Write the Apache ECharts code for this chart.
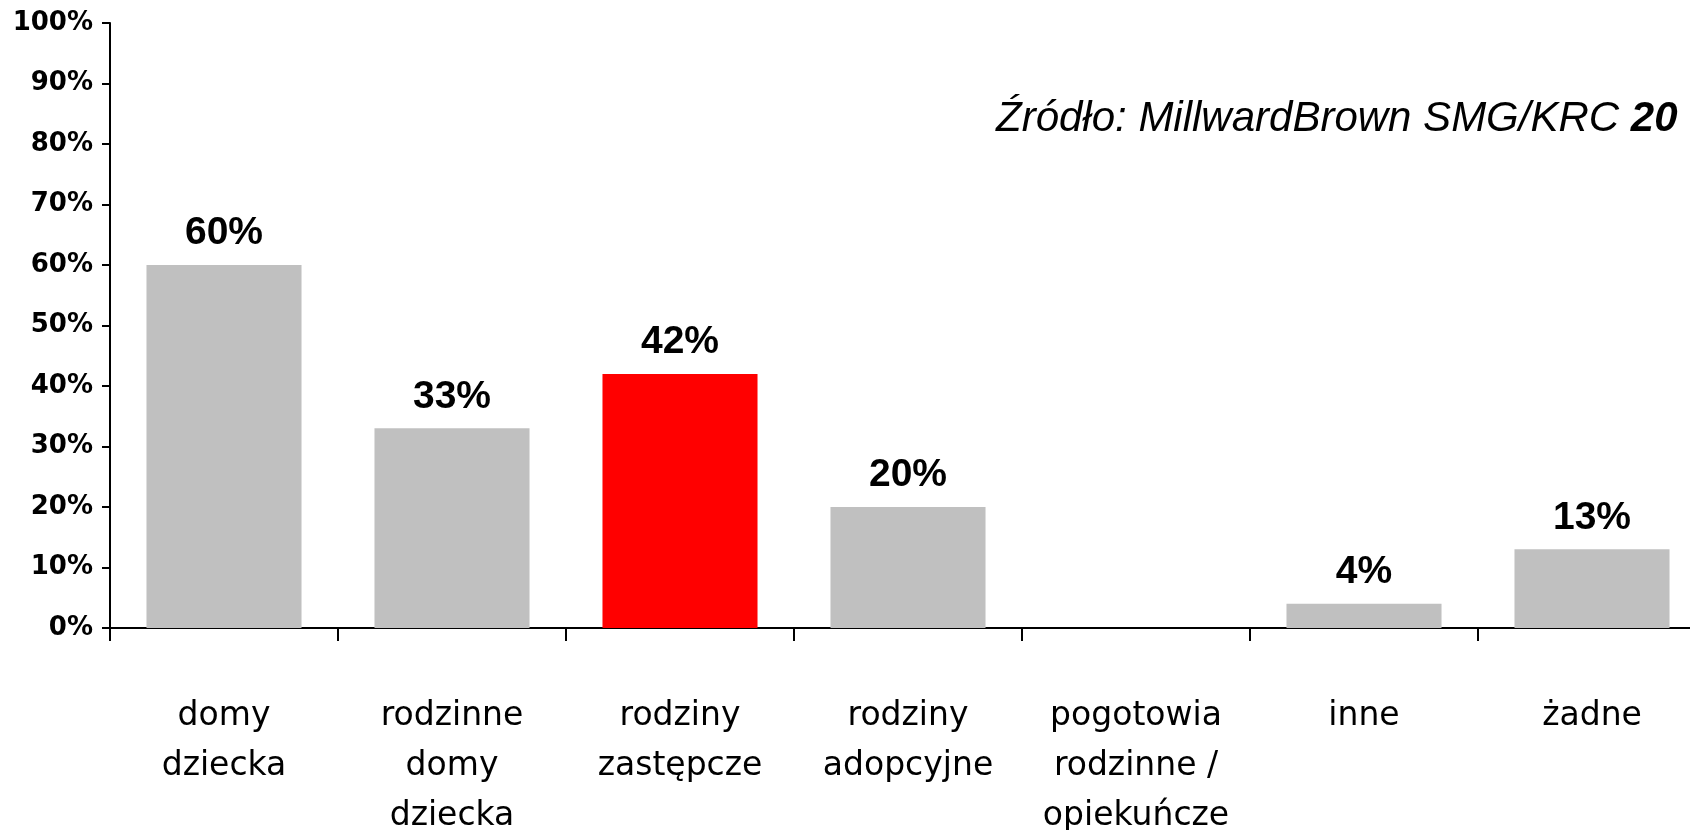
<!DOCTYPE html>
<html>
<head>
<meta charset="utf-8">
<script src="https://cdn.jsdelivr.net/npm/echarts@6/dist/echarts.min.js"></script>
<style>
html,body{margin:0;padding:0;background:#fff;overflow:hidden;width:1690px;height:830px;}
#chart{width:1706px;height:830px;}
</style>
</head>
<body>
<div id="chart"></div>
<script>
const categories = ['domy\ndziecka', 'rodzinne\ndomy\ndziecka', 'rodziny\nzastępcze', 'rodziny\nadopcyjne', 'pogotowia\nrodzinne /\nopiekuńcze', 'inne', 'żadne'];
const values = [60, 33, 42, 20, null, 4, 13];
const highlightIndex = 2;
const yTicks = [0, 10, 20, 30, 40, 50, 60, 70, 80, 90, 100];
const sourceText = 'Źródło: MillwardBrown SMG/KRC ';
const sourceYear = '20';

const chart = echarts.init(document.getElementById('chart'), null, {renderer: 'canvas'});
chart.setOption({
  animation: false,
  backgroundColor: '#ffffff',
  grid: {left: 110, top: 23, bottom: 202, right: 0, containLabel: false, outerBoundsMode: 'none'},
  xAxis: {
    type: 'category',
    data: categories,
    axisLine: {lineStyle: {color: '#000', width: 2}},
    axisTick: {show: true, length: 13, alignWithLabel: false, lineStyle: {color: '#000', width: 2}},
    axisLabel: {
      interval: 0,
      margin: 63,
      color: '#000',
      fontFamily: 'DejaVu Sans',
      fontSize: 33,
      lineHeight: 50
    }
  },
  yAxis: {
    type: 'value',
    min: yTicks[0],
    max: yTicks[yTicks.length - 1],
    interval: 10,
    splitLine: {show: false},
    axisLine: {show: true, lineStyle: {color: '#000', width: 2}},
    axisTick: {show: true, length: 8, lineStyle: {color: '#000', width: 2}},
    axisLabel: {
      margin: 17,
      color: '#000',
      fontFamily: 'DejaVu Sans',
      fontWeight: 'bold',
      fontSize: 26,
      formatter: v => v + '%'
    }
  },
  series: [{
    type: 'bar',
    barWidth: '68%',
    data: values.map((v, i) => ({
      value: v,
      itemStyle: {color: i === highlightIndex ? '#ff0000' : '#c0c0c0'}
    })),
    label: {
      show: true,
      position: 'top',
      distance: 12,
      color: '#000',
      fontFamily: 'Liberation Sans',
      fontWeight: 'bold',
      fontSize: 39,
      formatter: p => (p.value == null ? '' : p.value + '%')
    }
  }],
  graphic: [{
    type: 'text',
    left: 996,
    top: 98,
    style: {
      text: '{a|' + sourceText + '}{b|' + sourceYear + '}',
      rich: {
        a: {fontFamily: 'Liberation Sans', fontStyle: 'italic', fontSize: 42, fill: '#000', color: '#000'},
        b: {fontFamily: 'Liberation Sans', fontStyle: 'italic', fontWeight: 'bold', fontSize: 42, fill: '#000', color: '#000'}
      }
    }
  }]
});
</script>
</body>
</html>
